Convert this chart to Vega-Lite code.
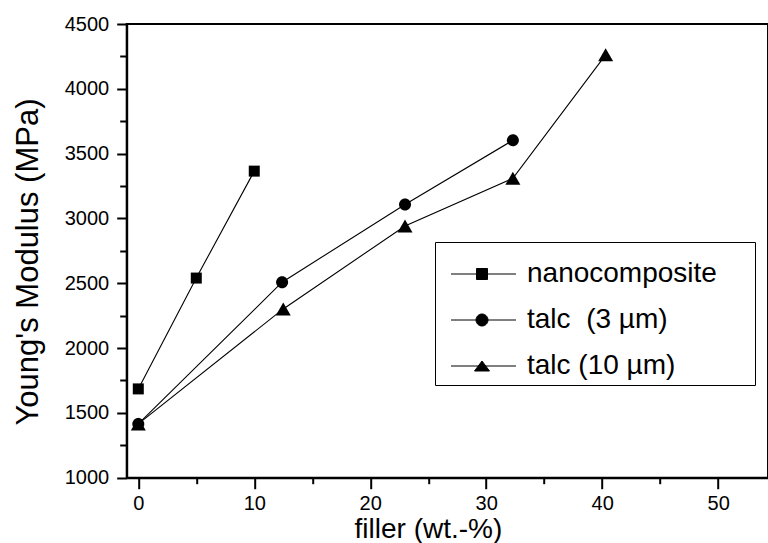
{
  "$schema": "https://vega.github.io/schema/vega-lite/v6.json",
  "width": 641.3,
  "height": 453.7,
  "autosize": "none",
  "padding": {"left": 126.7, "top": 24, "right": 0, "bottom": 65.3},
  "background": "white",
  "config": {
    "view": {"stroke": "black", "strokeWidth": 2},
    "font": "Liberation Sans"
  },
  "data": {
    "values": [
      {"series": "nanocomposite", "filler": 0, "modulus": 1685},
      {"series": "nanocomposite", "filler": 5, "modulus": 2540},
      {"series": "nanocomposite", "filler": 10, "modulus": 3365},
      {"series": "talc\u00a0 (3 µm)", "filler": 0, "modulus": 1415},
      {"series": "talc\u00a0 (3 µm)", "filler": 12.4, "modulus": 2508},
      {"series": "talc\u00a0 (3 µm)", "filler": 23, "modulus": 3108},
      {"series": "talc\u00a0 (3 µm)", "filler": 32.3, "modulus": 3603},
      {"series": "talc (10 µm)", "filler": 0, "modulus": 1415},
      {"series": "talc (10 µm)", "filler": 12.5, "modulus": 2302},
      {"series": "talc (10 µm)", "filler": 23, "modulus": 2942},
      {"series": "talc (10 µm)", "filler": 32.3, "modulus": 3310},
      {"series": "talc (10 µm)", "filler": 40.3, "modulus": 4262}
    ]
  },
  "resolve": {"axis": {"x": "independent", "y": "independent"}},
  "layer": [
    {
      "mark": {"type": "line", "color": "black", "strokeWidth": 1.1},
      "encoding": {
        "x": {
          "field": "filler", "type": "quantitative",
          "scale": {"domain": [-1, 54.3], "nice": false, "zero": false},
          "axis": {
            "orient": "bottom", "values": [0, 10, 20, 30, 40, 50], "grid": false, "format": "d",
            "title": "filler (wt.-%)",
            "tickSize": 11, "tickWidth": 2, "tickColor": "black",
            "domainColor": "black", "domainWidth": 2,
            "labelFontSize": 20, "labelColor": "black", "labelPadding": 5, "labelFont": "Liberation Sans",
            "titleFontSize": 28, "titleFont": "Liberation Sans", "titleFontWeight": "normal", "titleColor": "black",
            "titleX": 301.2, "titleY": 59.3, "titleBaseline": "alphabetic", "titleAlign": "center"
          }
        },
        "y": {
          "field": "modulus", "type": "quantitative",
          "scale": {"domain": [1000, 4500], "nice": false, "zero": false},
          "axis": {
            "orient": "left", "values": [1000, 1500, 2000, 2500, 3000, 3500, 4000, 4500], "grid": false, "format": "d",
            "title": "Young's Modulus (MPa)",
            "tickSize": 10, "tickWidth": 2, "tickColor": "black",
            "domainColor": "black", "domainWidth": 2,
            "labelFontSize": 20, "labelColor": "black", "labelPadding": 8, "labelFont": "Liberation Sans",
            "titleFontSize": 31, "titleFont": "Liberation Sans", "titleFontWeight": "normal", "titleColor": "black",
            "titleAngle": -90, "titleX": -89.7, "titleY": 237.5, "titleBaseline": "alphabetic", "titleAlign": "center"
          }
        },
        "detail": {"field": "series"}
      }
    },
    {
      "mark": {"type": "point", "filled": true, "opacity": 1, "size": 100},
      "encoding": {
        "x": {
          "field": "filler", "type": "quantitative",
          "axis": {
            "orient": "bottom", "values": [5, 15, 25, 35, 45], "grid": false, "labels": false,
            "domain": false, "title": null, "tickSize": 6, "tickWidth": 2, "tickColor": "black"
          }
        },
        "y": {
          "field": "modulus", "type": "quantitative",
          "axis": {
            "orient": "left", "values": [1250, 1750, 2250, 2750, 3250, 3750, 4250], "grid": false, "labels": false,
            "domain": false, "title": null, "tickSize": 7, "tickWidth": 2, "tickColor": "black"
          }
        },
        "shape": {
          "field": "series", "type": "nominal",
          "scale": {
            "range": [
              "M-1.1,-1.1H1.1V1.1H-1.1Z",
              "M0,-1.3L1.5,1.3L-1.5,1.3Z",
              "M1.2,0A1.2,1.2,0,1,1,-1.2,0A1.2,1.2,0,1,1,1.2,0Z"
            ]
          },
          "legend": null
        },
        "color": {
          "field": "series", "type": "nominal",
          "scale": {
            "domain": ["nanocomposite", "talc\u00a0 (3 µm)", "talc (10 µm)"],
            "range": ["black", "black", "black"]
          },
          "legend": {
            "orient": "none", "legendX": 308.3, "legendY": 218,
            "title": " ", "titleFontSize": 8, "titlePadding": 5,
            "padding": 5, "strokeColor": "black", "fillColor": "white",
            "symbolSize": 100, "labelOffset": 59, "labelFontSize": 28, "labelFont": "Liberation Sans",
            "labelColor": "black", "labelLimit": 400, "rowPadding": 18,
            "symbolStrokeColor": "black", "symbolStrokeWidth": 1, "symbolOpacity": 1,
            "symbolType": {"expr": "datum.value === 'nanocomposite' ? 'M-0.6,0H12.4M4.5,-1.1H6.7V1.1H4.5ZM58.8,0' : (datum.value === 'talc (10 µm)' ? 'M-0.6,0H12.4M5.6,-1L7.1,1L4.1,1ZM58.8,0' : 'M-0.6,0H12.4M6.8,0A1.2,1.2,0,1,1,4.4,0A1.2,1.2,0,1,1,6.8,0ZM58.8,0')"}
          }
        }
      }
    }
  ]
}
